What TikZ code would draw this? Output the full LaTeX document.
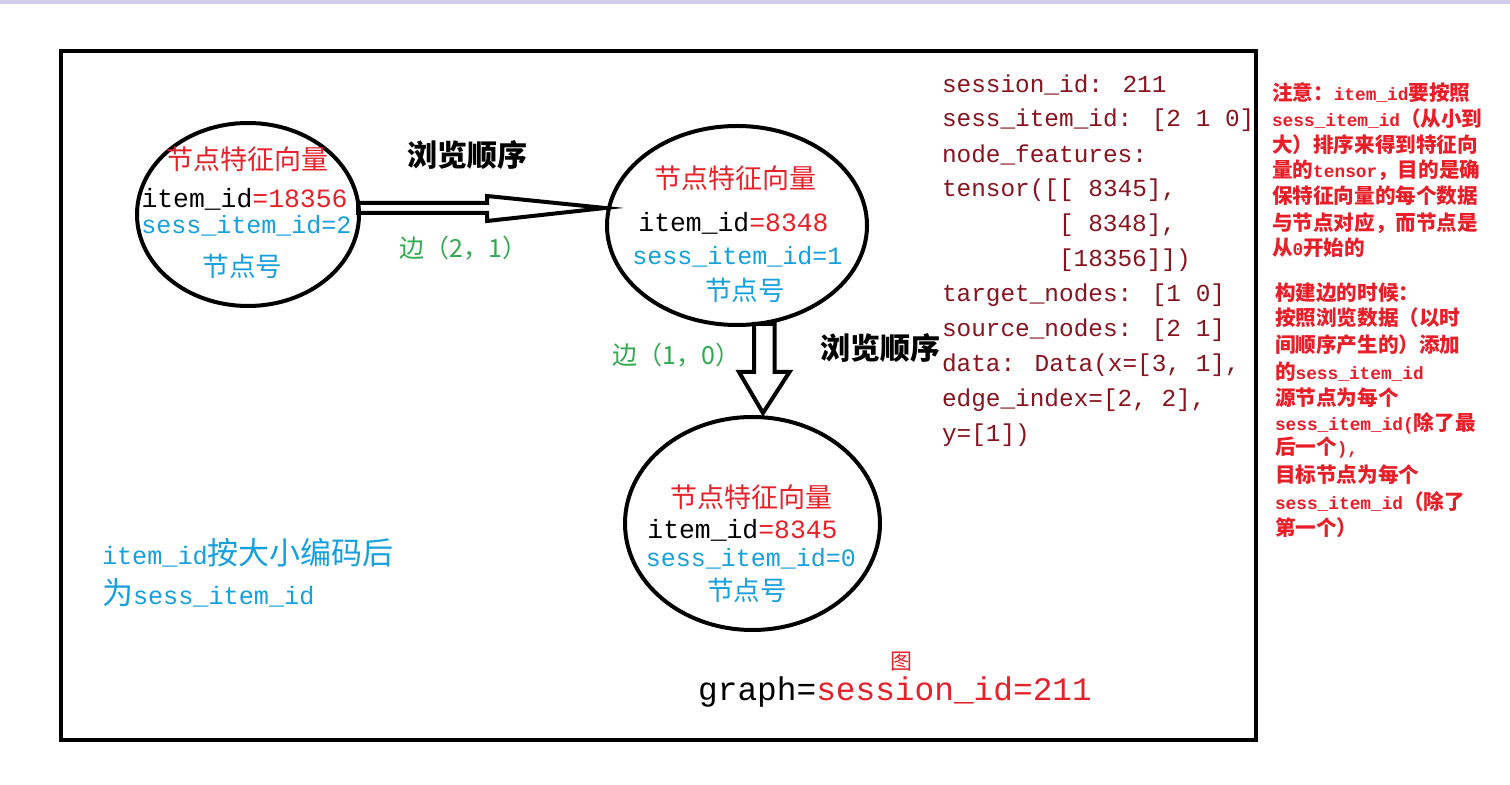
\documentclass[tikz,border=0pt]{standalone}
\usepackage{fontspec}
\setmainfont{Liberation Mono}
\newfontfamily\cjk{Noto Sans CJK SC}
\usetikzlibrary{shapes.geometric}
\definecolor{tred}{RGB}{230,33,41}
\definecolor{tcyan}{RGB}{22,160,222}
\definecolor{tgreen}{RGB}{50,170,80}
\definecolor{tcode}{RGB}{135,20,30}
\definecolor{tnote}{RGB}{232,30,40}
\definecolor{band}{RGB}{210,206,234}
\newcommand\fsz[1]{\fontsize{#1}{#1}\selectfont}
\def\zhsz{12pt}
\newcommand\zh[1]{{\cjk\fsz{\zhsz}#1}}
\begin{document}
\begin{tikzpicture}[x=0.5pt,y=-0.5pt,
  every node/.style={inner sep=0pt, outer sep=0pt},
  graphnode/.style={draw, ellipse, line width=2pt, inner sep=0pt},
  hollow/.style={draw, line width=2pt, fill=white, line join=miter},
  titlezh/.style={font=\cjk\fsz{13.5pt}, text=tred},
  itemid/.style={font=\fsz{13.2pt}, text=black},
  sessid/.style={font=\fsz{12.5pt}, text=tcyan},
  nodenum/.style={font=\cjk\fsz{13.3pt}, text=tcyan},
  order/.style={font=\cjk\bfseries\fsz{15pt}, text=black},
  edgelbl/.style={font=\cjk\fsz{12.5pt}, text=tgreen},
  codeline/.style={font=\fsz{12.2pt}, text=tcode, anchor=west},
  noteline/.style={font={\bfseries\fsz{8.9pt}\def\zhsz{10.3pt}}, text=tnote, anchor=west},
  blueline/.style={font={\fsz{12.6pt}\def\zhsz{15.5pt}}, text=tcyan, anchor=west}
]
\useasboundingbox (0,0) rectangle (1510,785);
\fill[white] (0,0) rectangle (1510,785);
\fill[band] (0,0) rectangle (1510,4);

% outer frame
\draw[line width=2pt] (61,51) rectangle (1256,740);

% hollow arrows
\draw[hollow] (358,203) -- (487,203) -- (487,196) -- (605,208) -- (487,221) -- (487,213) -- (358,213) -- cycle;
\draw[hollow] (754,324) -- (754,372) -- (739,372) -- (763,413) -- (789.5,372) -- (774.5,372) -- (774.5,324) -- cycle;

% graph nodes
\node[graphnode, minimum width=111pt, minimum height=91.5pt] (e1) at (248,214.5) {};
\node[graphnode, minimum width=130pt, minimum height=99.5pt] (e2) at (737,225.5) {};
\node[graphnode, minimum width=127.5pt, minimum height=106.5pt] (e3) at (752.5,523.5) {};

% node texts
\node[titlezh] (e1t) at (247,159) {节点特征向量};
\node[itemid] (e1i) at (244.5,199) {item\_id\textcolor{tred}{=18356}};
\node[sessid] (e1s) at (246.5,226) {sess\_item\_id=2};
\node[nodenum] (e1n) at (242.5,266) {节点号};

\node[titlezh] (e2t) at (735.5,178) {节点特征向量};
\node[itemid] (e2i) at (733.5,223) {item\_id\textcolor{tred}{=8348}};
\node[sessid] (e2s) at (737.5,257) {sess\_item\_id=1};
\node[nodenum] (e2n) at (745,290) {节点号};

\node[titlezh] (e3t) at (751.5,497) {节点特征向量};
\node[itemid] (e3i) at (742.5,530) {item\_id\textcolor{tred}{=8345}};
\node[sessid] (e3s) at (751,559) {sess\_item\_id=0};
\node[nodenum] (e3n) at (747,590) {节点号};

% edge labels
\node[order] (o1) at (467,155) {浏览顺序};
\node[edgelbl] (l1) at (463.5,248) {边（2，1）};
\node[edgelbl] (l2) at (676.5,355) {边（1，0）};
\node[order] (o2) at (880,348) {浏览顺序};

% code block
\node[codeline] (c1) at (942,85) {session\_id: 211};
\node[codeline] (c2) at (942,120) {sess\_item\_id: [2 1 0]};
\node[codeline] (c3) at (942,155) {node\_features:};
\node[codeline] (c4) at (942,190) {tensor([[ 8345],};
\node[codeline] (c5) at (1059,225) {[ 8348],};
\node[codeline] (c6) at (1059,260) {[18356]])};
\node[codeline] (c7) at (942,295) {target\_nodes: [1 0]};
\node[codeline] (c8) at (942,330) {source\_nodes: [2 1]};
\node[codeline] (c9) at (942,365) {data: Data(x=[3, 1],};
\node[codeline] (c10) at (942,400) {edge\_index=[2, 2],};
\node[codeline] (c11) at (942,435) {y=[1])};

% notes
\node[noteline] (n1) at (1272,93) {\zh{注意：}item\_id\zh{要按照}};
\node[noteline] (n2) at (1272,119) {sess\_item\_id\zh{（从小到}};
\node[noteline] (n3) at (1272,145) {\zh{大）排序来得到特征向}};
\node[noteline] (n4) at (1272,170) {\zh{量的}tensor\zh{，目的是确}};
\node[noteline] (n5) at (1272,196) {\zh{保特征向量的每个数据}};
\node[noteline] (n6) at (1272,223) {\zh{与节点对应，而节点是}};
\node[noteline] (n7) at (1272,248) {\zh{从}0\zh{开始的}};
\node[noteline] (n8) at (1275,293) {\zh{构建边的时候：}};
\node[noteline] (n9) at (1275,318) {\zh{按照浏览数据（以时}};
\node[noteline] (n10) at (1275,345) {\zh{间顺序产生的）添加}};
\node[noteline] (n11) at (1275,372) {\zh{的}sess\_item\_id};
\node[noteline] (n12) at (1275,398) {\zh{源节点为每个}};
\node[noteline] (n13) at (1275,423) {sess\_item\_id(\zh{除了最}};
\node[noteline] (n14) at (1275,448) {\zh{后一个}),};
\node[noteline] (n15) at (1275,475) {\zh{目标节点为每个}};
\node[noteline] (n16) at (1275,502) {sess\_item\_id\zh{（除了}};
\node[noteline] (n17) at (1275,528) {\zh{第一个）}};

% bottom-left
\node[blueline] (b1) at (102,553) {item\_id\zh{按大小编码后}};
\node[blueline] (b2) at (102,593) {\zh{为}sess\_item\_id};

% caption
\node[font=\cjk\fsz{11pt}, text=tred] (cap1) at (901,662) {图};
\node[font=\fsz{16.4pt}] (cap2) at (895,692) {graph=\textcolor{tred}{session\_id=211}};
\end{tikzpicture}
\end{document}
